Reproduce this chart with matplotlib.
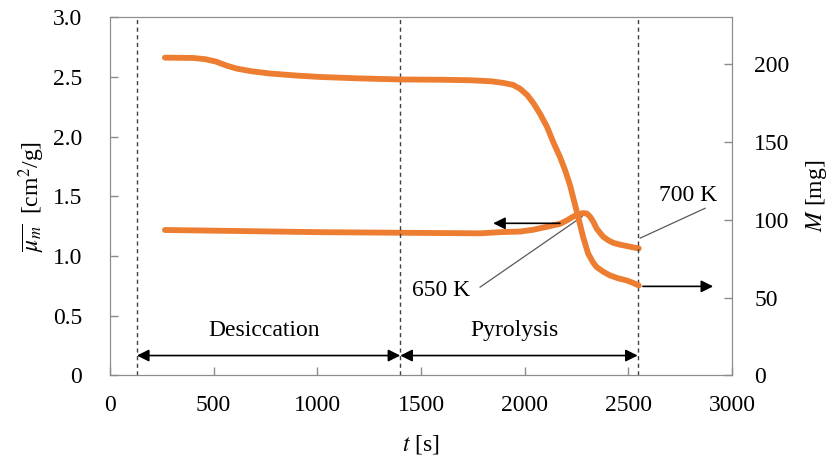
import numpy as np
import matplotlib
matplotlib.use('Agg')
import matplotlib.pyplot as plt

plt.rcParams.update({
    'font.family': 'Liberation Serif',
    'mathtext.fontset': 'stix',
    'font.size': 17,
    'axes.edgecolor': '#8c8c8c',
    'xtick.color': '#8c8c8c',
    'ytick.color': '#8c8c8c',
    'xtick.labelcolor': 'black',
    'ytick.labelcolor': 'black',
})

# mass absorption coefficient (left axis)
t_mu = [265, 600, 1000, 1400, 1785, 1881, 1978, 2041, 2107, 2171, 2205, 2234,
        2260, 2282, 2300, 2315, 2330, 2347, 2365, 2380, 2405, 2428, 2460,
        2492, 2525, 2550]
mu = [1.218, 1.21, 1.20, 1.195, 1.19, 1.20, 1.205, 1.22, 1.245, 1.27, 1.30,
      1.33, 1.35, 1.36, 1.355, 1.33, 1.29, 1.23, 1.19, 1.16, 1.13, 1.11,
      1.095, 1.084, 1.072, 1.064]

# sample mass (right axis)
t_m = [265, 400, 460, 510, 560, 610, 680, 772, 900, 1013, 1200, 1399, 1600,
       1737, 1840, 1896, 1944, 1978, 2012, 2041, 2074, 2108, 2137, 2171,
       2195, 2219, 2240, 2258, 2282, 2306, 2330, 2347, 2380, 2412, 2450,
       2492, 2525, 2550]
mass = [204, 203.8, 203, 201.5, 199, 197, 195.3, 193.8, 192.5, 191.6, 190.7,
        190, 189.8, 189.5, 188.8, 187.8, 186.5, 184, 180, 175, 168, 159.5,
        150, 140, 131.7, 122, 111, 101.7, 88.8, 78.3, 72.5, 69.6, 66.5, 64.2,
        62.4, 61, 59.3, 57.8]

stage_bounds = [130, 1400, 2545]
stage_names = ['Desiccation', 'Pyrolysis']

xticks = [0, 500, 1000, 1500, 2000, 2500, 3000]
yticks_l = [0, 0.5, 1.0, 1.5, 2.0, 2.5, 3.0]
yticklabels_l = ['0', '0.5', '1.0', '1.5', '2.0', '2.5', '3.0']
yticks_r = [0, 50, 100, 150, 200]

orange = '#ED7D31'

fig = plt.figure(figsize=(8.35, 4.63), dpi=100)
ax = fig.add_axes([0.1317, 0.189, 0.745, 0.774])
ax2 = ax.twinx()

ax.plot(t_mu, mu, color=orange, lw=4.2, solid_capstyle='round', solid_joinstyle='round')
ax2.plot(t_m, mass, color=orange, lw=4.2, solid_capstyle='round', solid_joinstyle='round')

for xb in stage_bounds:
    ax.axvline(xb, color='#404040', lw=1.0, ls=(0, (3, 2.5)))

# stage arrows
y_arr = 0.167
for i, name in enumerate(stage_names):
    x0, x1 = stage_bounds[i], stage_bounds[i + 1]
    ax.annotate('', xy=(x1, y_arr), xytext=(x0, y_arr),
                arrowprops=dict(arrowstyle='<|-|>', color='black', lw=1.2,
                                mutation_scale=18, shrinkA=0, shrinkB=0))
    ax.text((x0 + x1) / 2 - 20, 0.38, name, ha='center', va='center')

# arrows pointing to the axes
ax.annotate('', xy=(1848, 1.274), xytext=(2170, 1.274),
            arrowprops=dict(arrowstyle='-|>', color='black', lw=1.2,
                            mutation_scale=18, shrinkA=0, shrinkB=0))
ax2.annotate('', xy=(2909, 57.2), xytext=(2570, 57.2),
             arrowprops=dict(arrowstyle='-|>', color='black', lw=1.2,
                             mutation_scale=18, shrinkA=0, shrinkB=0))

# temperature marks
ax.plot([1785, 2277], [0.74, 1.33], color='#595959', lw=0.9)
ax.text(1597, 0.71, '650 K', ha='center', va='center')
ax.plot([2557, 2870], [1.15, 1.40], color='#595959', lw=0.9)
ax.text(2788, 1.51, '700 K', ha='center', va='center')

ax.set_xlim(0, 3000)
ax.set_ylim(0, 3.0)
ax2.set_ylim(0, 230)
ax.set_xticks(xticks)
ax.set_yticks(yticks_l)
ax.set_yticklabels(yticklabels_l)
ax2.set_yticks(yticks_r)

ax.tick_params(direction='in', length=6, width=1)
ax.tick_params(axis='y', pad=20)
ax.tick_params(axis='x', pad=14)
ax2.tick_params(direction='in', length=6, width=1, pad=16)

ax.set_xlabel(r'$t$ [s]', labelpad=12)
ax.set_ylabel(r'$\overline{\mu_m}$  [cm$^2$/g]', labelpad=4)
ax2.set_ylabel(r'$M$ [mg]', labelpad=10)

fig.savefig('out.png', dpi=100)
